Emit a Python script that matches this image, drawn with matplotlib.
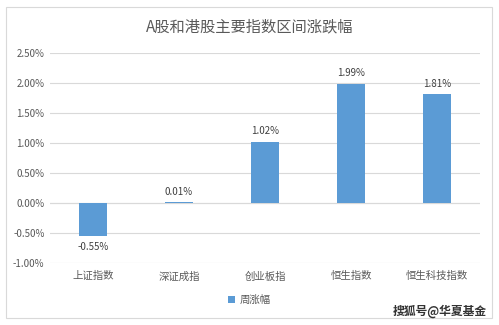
import matplotlib
matplotlib.use("Agg")
import matplotlib.pyplot as plt
from matplotlib.patches import Rectangle
from matplotlib.ticker import FuncFormatter

plt.rcParams['font.family'] = ['Noto Sans CJK SC', 'DejaVu Sans']

categories = ['上证指数', '深证成指', '创业板指', '恒生指数', '恒生科技指数']
values = [-0.55, 0.01, 1.02, 1.99, 1.81]
series_name = '周涨幅'
title = 'A股和港股主要指数区间涨跌幅'
yticks = [-1.0, -0.5, 0.0, 0.5, 1.0, 1.5, 2.0, 2.5]

fig = plt.figure(figsize=(4.99, 3.25), dpi=100)
fig.patch.set_facecolor('white')
fig.patches.append(Rectangle((6/499, 7/325), 486/499, 311/325, transform=fig.transFigure,
                             fill=False, edgecolor='#D9D9D9', linewidth=0.8))

ax = fig.add_axes([50/499, 62/325, 430/499, 210/325])
x = list(range(len(categories)))
bars = ax.bar(x, values, width=0.33, color='#5B9BD5', zorder=3, label=series_name)
ax.set_xlim(-0.5, len(categories) - 0.5)
ax.set_ylim(-1.0, 2.5)
ax.set_yticks(yticks)
ax.yaxis.set_major_formatter(FuncFormatter(lambda v, p: f'{v:.2f}%'))
ax.grid(axis='y', color='#D9D9D9', linewidth=0.8, zorder=0)
for s in ax.spines.values():
    s.set_visible(False)
ax.tick_params(axis='both', length=0, labelsize=7, colors='#595959', pad=4)
ax.set_xticks(x)
ax.set_xticklabels(categories, fontsize=7.5)
ax.tick_params(axis='x', pad=6)
ax.axhline(0, color='#D9D9D9', linewidth=0.8, zorder=1)

for xi, v in zip(x, values):
    if v >= 0:
        ax.annotate(f'{v:.2f}%', (xi, v), xytext=(0, 4), textcoords='offset points',
                    ha='center', va='bottom', fontsize=7, color='#404040')
    else:
        ax.annotate(f'{v:.2f}%', (xi, v), xytext=(0, -4), textcoords='offset points',
                    ha='center', va='top', fontsize=7, color='#404040')

fig.text(0.5, 0.917, title, ha='center', va='center', fontsize=11, color='#595959')

leg = fig.legend(handles=[bars], labels=[series_name], loc='center',
                 bbox_to_anchor=(0.5, 1 - 300/325), bbox_transform=fig.transFigure,
                 frameon=False, fontsize=7.5, handlelength=0.7, handleheight=0.7, handletextpad=0.4)
for t in leg.get_texts():
    t.set_color('#595959')

fig.text(0.975, 1 - 318/325, '搜狐号@华夏基金', ha='right', va='bottom', fontsize=8.5,
         color='#333333', fontweight='bold')

fig.savefig('out.png', dpi=100)
